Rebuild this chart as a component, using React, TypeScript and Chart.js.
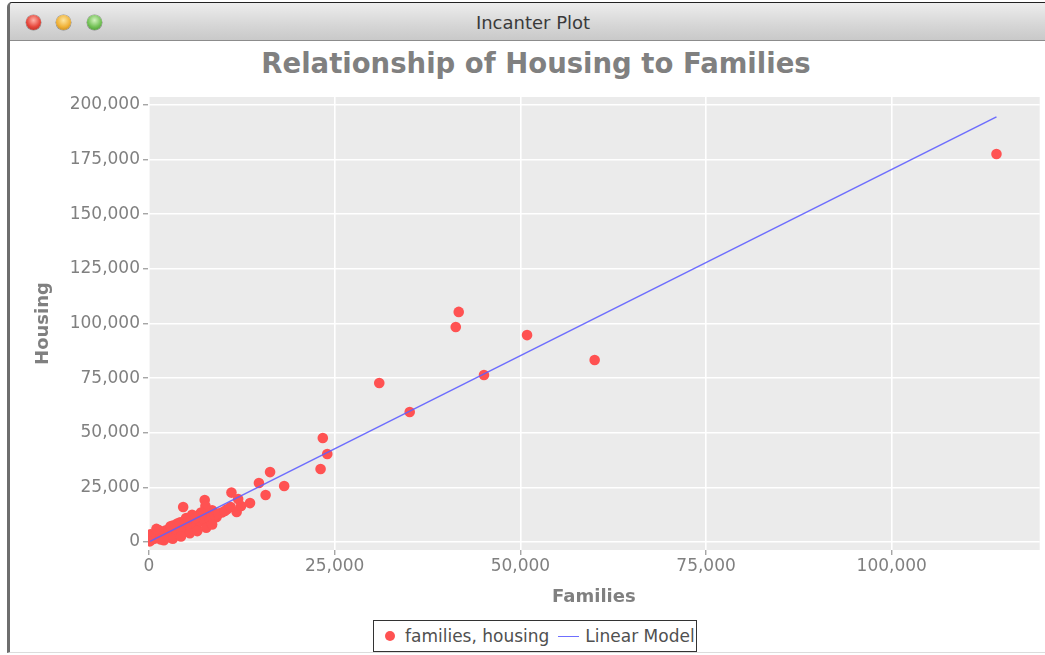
import React, { useEffect, useRef } from "react";
import { Chart, registerables } from "chart.js";

Chart.register(...registerables);

const chartTitle = "Relationship of Housing to Families";
const xAxisTitle = "Families";
const yAxisTitle = "Housing";
const scatterLabel = "families, housing";
const lineLabel = "Linear Model";

const familiesValues = [
  114100, 60000, 50900, 45100, 41700, 41300, 35100, 31000, 23400, 24000, 23100,
  18200, 16300, 15700, 14800, 13600, 12000, 11100, 11800, 9100, 7500, 4600,
  10500, 9800, 8500, 8000, 7600, 7000, 6500, 6000, 5500, 5000, 5200, 4800, 4200,
  4000, 3600, 3200, 3000, 2700, 2400, 2200, 2000, 1800, 1500, 1300, 1100, 900,
  700, 500, 300, 200, 100, 1600, 2600, 3400, 4400, 5600, 6400, 6800, 7300, 8200,
  8800, 9300, 10200, 11000, 12400, 5800, 6200, 3800, 2900, 1000, 4900, 3200,
  5500, 7700, 4300, 6500, 2000, 8500,
];
const housingValues = [
  177600, 83300, 94700, 76400, 105300, 98400, 59500, 72800, 47600, 40300, 33400,
  25600, 32000, 21500, 27000, 17800, 19700, 22600, 13700, 11400, 19200, 16000,
  15000, 13500, 14500, 12500, 16500, 13500, 12000, 10500, 9500, 11000, 8000, 7000,
  9000, 6500, 5500, 7500, 4500, 6000, 3800, 5200, 2800, 4500, 3200, 5500, 2000,
  3800, 1500, 2800, 900, 3500, 300, 1200, 2200, 3000, 4800, 6200, 7800, 9500,
  10500, 10000, 12000, 13000, 14200, 16000, 16500, 12500, 11000, 8500, 7200, 6000,
  10000, 1500, 4000, 6500, 2500, 5000, 800, 8000,
];
const modelX = [150, 114100];
const modelY = [300, 194600];

const xTickValues = [0, 25000, 50000, 75000, 100000];
const yTickValues = [0, 25000, 50000, 75000, 100000, 125000, 150000, 175000, 200000];
const xMin = -135;
const xMax = 119920;
const yMin = -3661;
const yMax = 203661;

const GRAY = "#808080";
const FONT = "'DejaVu Sans', sans-serif";

export default function App() {
  const ref = useRef<HTMLCanvasElement | null>(null);

  useEffect(() => {
    if (!ref.current) return;
    const bgPlugin = {
      id: "plotBg",
      beforeDraw(chart: any) {
        const { ctx, chartArea } = chart;
        ctx.save();
        ctx.fillStyle = "#ebebeb";
        ctx.fillRect(chartArea.left, chartArea.top, chartArea.width, chartArea.height);
        ctx.restore();
      },
    };
    const chart = new Chart(ref.current, {
      type: "scatter",
      data: {
        datasets: [
          {
            label: scatterLabel,
            data: familiesValues.map((x, i) => ({ x, y: housingValues[i] })),
            backgroundColor: "#ff5252",
            borderWidth: 0,
            pointRadius: 5.3,
            pointHoverRadius: 5.3,
            order: 2,
          },
          {
            type: "line",
            label: lineLabel,
            data: modelX.map((x, i) => ({ x, y: modelY[i] })),
            borderColor: "rgba(95,95,255,0.9)",
            borderWidth: 1.5,
            pointRadius: 0,
            showLine: true,
            fill: false,
            order: 1,
          } as any,
        ],
      },
      options: {
        responsive: false,
        animation: false,
        devicePixelRatio: 1,
        layout: { padding: { top: 55, right: 5, left: 0, bottom: 0 } },
        plugins: {
          legend: { display: false },
          title: { display: false },
          tooltip: { enabled: false },
        },
        scales: {
          x: {
            type: "linear",
            min: xMin,
            max: xMax,
            afterBuildTicks: (s: any) => {
              s.ticks = xTickValues.map((v) => ({ value: v }));
            },
            afterFit: (s: any) => {
              s.height = 62;
            },
            border: { display: false },
            grid: { color: "#ffffff", lineWidth: 1.6, tickColor: GRAY, tickLength: 5, tickWidth: 1 },
            ticks: {
              color: GRAY,
              padding: 1,
              font: { family: FONT, size: 17 },
              maxRotation: 0,
              callback: (v: any) => Number(v).toLocaleString("en-US"),
            },
            title: {
              display: true,
              text: xAxisTitle,
              color: GRAY,
              font: { family: FONT, size: 18, weight: "bold" },
              padding: { top: 0, bottom: 4 },
            },
          },
          y: {
            type: "linear",
            min: yMin,
            max: yMax,
            afterBuildTicks: (s: any) => {
              s.ticks = yTickValues.map((v) => ({ value: v }));
            },
            afterFit: (s: any) => {
              s.width = 138;
            },
            border: { display: false },
            grid: { color: "#ffffff", lineWidth: 1.6, tickColor: GRAY, tickLength: 5, tickWidth: 1 },
            ticks: {
              color: GRAY,
              padding: 3,
              font: { family: FONT, size: 17 },
              callback: (v: any) => Number(v).toLocaleString("en-US"),
            },
            title: {
              display: true,
              text: yAxisTitle,
              color: GRAY,
              font: { family: FONT, size: 18, weight: "bold" },
              padding: { top: 23, bottom: 0 },
            },
          },
        },
      },
      plugins: [bgPlugin],
    });
    return () => chart.destroy();
  }, []);

  const light = (left: number, c1: string, c2: string, c3: string) => (
    <div
      style={{
        position: "absolute",
        left: left - 7.5,
        top: 14.5,
        width: 15,
        height: 15,
        borderRadius: "50%",
        background: `radial-gradient(circle at 50% 35%, ${c1} 0%, ${c2} 55%, ${c3} 100%)`,
        boxShadow: "0 0 0 0.5px rgba(0,0,0,0.35)",
      }}
    />
  );

  return (
    <div
      style={{
        position: "fixed",
        left: 0,
        top: 0,
        width: 1045,
        height: 655,
        overflow: "hidden",
        background: "#ffffff",
        fontFamily: FONT,
      }}
    >
      {/* window frame */}
      <div
        style={{
          position: "absolute",
          left: 7,
          top: 2,
          width: 1060,
          height: 651,
          borderLeft: "3px solid #6e6e6e",
          borderTop: "1px solid #222",
          borderBottom: "1px solid #dcdcdc",
          borderTopLeftRadius: 5,
          boxSizing: "border-box",
        }}
      />
      {/* title bar */}
      <div
        style={{
          position: "absolute",
          left: 10,
          top: 3,
          width: 1040,
          height: 38,
          background: "linear-gradient(#ededed, #d6d6d6 60%, #c9c9c9)",
          borderBottom: "1px solid #8c8c8c",
          borderTopLeftRadius: 4,
          boxSizing: "border-box",
        }}
      />
      {light(33, "#ffb3a9", "#e6453a", "#a52a22")}
      {light(63, "#fde6a0", "#f0b136", "#b57a14")}
      {light(94, "#d3f3bf", "#72c155", "#3d8a28")}
      <div
        style={{
          position: "absolute",
          left: 10,
          width: 1046,
          top: 12,
          textAlign: "center",
          fontSize: 18,
          color: "#3a3a3a",
          fontFamily: FONT,
          lineHeight: "22px",
        }}
      >
        Incanter Plot
      </div>
      {/* chart title */}
      <div
        style={{
          position: "absolute",
          left: 0,
          width: 1072,
          top: 46,
          textAlign: "center",
          fontSize: 27.5,
          fontWeight: "bold",
          color: GRAY,
          fontFamily: FONT,
          lineHeight: "34px",
        }}
      >
        {chartTitle}
      </div>
      <canvas
        ref={ref}
        width={1035}
        height={570}
        style={{ position: "absolute", left: 10, top: 42, width: 1035, height: 570 }}
      />
      {/* legend */}
      <div
        style={{
          position: "absolute",
          left: 373,
          top: 620,
          width: 324,
          height: 32,
          border: "1px solid #333",
          boxSizing: "border-box",
          background: "#fff",
          display: "flex",
          alignItems: "center",
          fontSize: 17,
          color: "#505050",
          fontFamily: FONT,
          whiteSpace: "nowrap",
        }}
      >
        <span
          style={{
            display: "inline-block",
            width: 10,
            height: 10,
            borderRadius: "50%",
            background: "#ff5252",
            marginLeft: 11,
            marginRight: 10,
          }}
        />
        <span>{scatterLabel}</span>
        <span
          style={{
            display: "inline-block",
            width: 21,
            height: 0,
            borderTop: "1.5px solid rgba(95,95,255,0.9)",
            marginLeft: 9,
            marginRight: 6,
          }}
        />
        <span>{lineLabel}</span>
      </div>
    </div>
  );
}
